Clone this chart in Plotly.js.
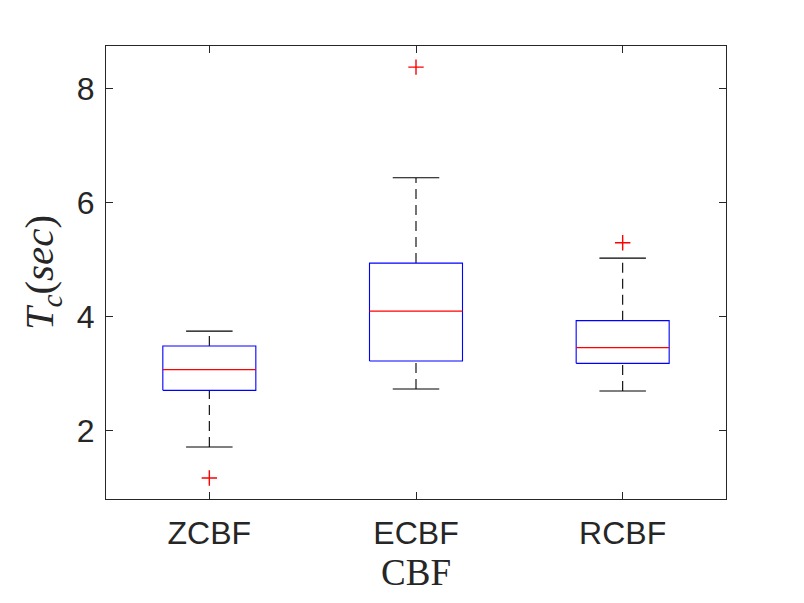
<!DOCTYPE html>
<html>
<head>
<meta charset="utf-8">
<script src="https://cdn.plot.ly/plotly-3.0.1.min.js"></script>
<style>html,body{margin:0;padding:0;background:#fff;}#chart{width:804px;height:603px;}</style>
</head>
<body>
<div id="chart"></div>
<script>
// Data
var categories = ['ZCBF', 'ECBF', 'RCBF'];
var q1Values = [2.707, 3.221, 3.181];
var medianValues = [3.070, 4.098, 3.456];
var q3Values = [3.484, 4.940, 3.930];
var lowerWhisker = [1.712, 2.730, 2.695];
var upperWhisker = [3.747, 6.439, 5.028];
var outlierValues = [[1.168], [8.379], [5.298]];
var yTickValues = [2, 4, 6, 8];

var boxHalf = 0.225;
var capHalf = 0.1125;
var axisColor = '#262626';
var traces = [];

categories.forEach(function (cat, i) {
  var c = i + 1;
  // whiskers (dashed)
  traces.push({
    type: 'scatter', mode: 'lines', hoverinfo: 'skip', showlegend: false,
    x: [c, c, null, c, c],
    y: [q3Values[i], upperWhisker[i], null, lowerWhisker[i], q1Values[i]],
    line: {color: '#000000', width: 1.1, dash: '10px,6px'}
  });
  // caps
  traces.push({
    type: 'scatter', mode: 'lines', hoverinfo: 'skip', showlegend: false,
    x: [c - capHalf, c + capHalf, null, c - capHalf, c + capHalf],
    y: [upperWhisker[i], upperWhisker[i], null, lowerWhisker[i], lowerWhisker[i]],
    line: {color: '#000000', width: 1.1}
  });
  // box
  traces.push({
    type: 'scatter', mode: 'lines', hoverinfo: 'skip', showlegend: false,
    x: [c - boxHalf, c + boxHalf, c + boxHalf, c - boxHalf, c - boxHalf],
    y: [q1Values[i], q1Values[i], q3Values[i], q3Values[i], q1Values[i]],
    line: {color: '#0000ff', width: 1.1}
  });
  // median
  traces.push({
    type: 'scatter', mode: 'lines', hoverinfo: 'skip', showlegend: false,
    x: [c - boxHalf, c + boxHalf],
    y: [medianValues[i], medianValues[i]],
    line: {color: '#ff0000', width: 1.1}
  });
  // outliers
  traces.push({
    type: 'scatter', mode: 'markers', hoverinfo: 'skip', showlegend: false,
    x: outlierValues[i].map(function () { return c; }),
    y: outlierValues[i],
    marker: {symbol: 'cross-thin', size: 11, line: {color: '#ff0000', width: 1.4}, color: '#ff0000'}
  });
});

var layout = {
  width: 804, height: 603,
  paper_bgcolor: '#ffffff', plot_bgcolor: '#ffffff',
  margin: {l: 106, r: 78, t: 46, b: 104},
  showlegend: false,
  xaxis: {
    range: [0.5, 3.5],
    tickmode: 'array', tickvals: categories.map(function (c, i) { return i + 1; }), ticktext: categories,
    ticks: 'inside', ticklen: 7, tickcolor: axisColor, tickwidth: 1,
    showline: true, linecolor: axisColor, linewidth: 1, mirror: 'ticks',
    showgrid: false, zeroline: false,
    tickfont: {family: 'Liberation Sans, Arial, sans-serif', size: 32, color: axisColor},
    ticklabelstandoff: 6,
    title: {text: 'CBF', font: {family: 'Liberation Serif, Times New Roman, serif', size: 37, color: axisColor}, standoff: 8}
  },
  yaxis: {
    range: [0.8, 8.75],
    tickmode: 'array', tickvals: yTickValues,
    ticks: 'inside', ticklen: 7, tickcolor: axisColor, tickwidth: 1,
    showline: true, linecolor: axisColor, linewidth: 1, mirror: 'ticks',
    showgrid: false, zeroline: false,
    tickfont: {family: 'Liberation Sans, Arial, sans-serif', size: 32, color: axisColor},
    ticklabelstandoff: 4,
    title: {text: '<i>T</i><sub><i>c</i></sub>(<i>sec</i>)', font: {family: 'Liberation Serif, Times New Roman, serif', size: 41, color: axisColor}, standoff: 10}
  }
};

Plotly.newPlot('chart', traces, layout, {displayModeBar: false, staticPlot: true});
</script>
</body>
</html>
